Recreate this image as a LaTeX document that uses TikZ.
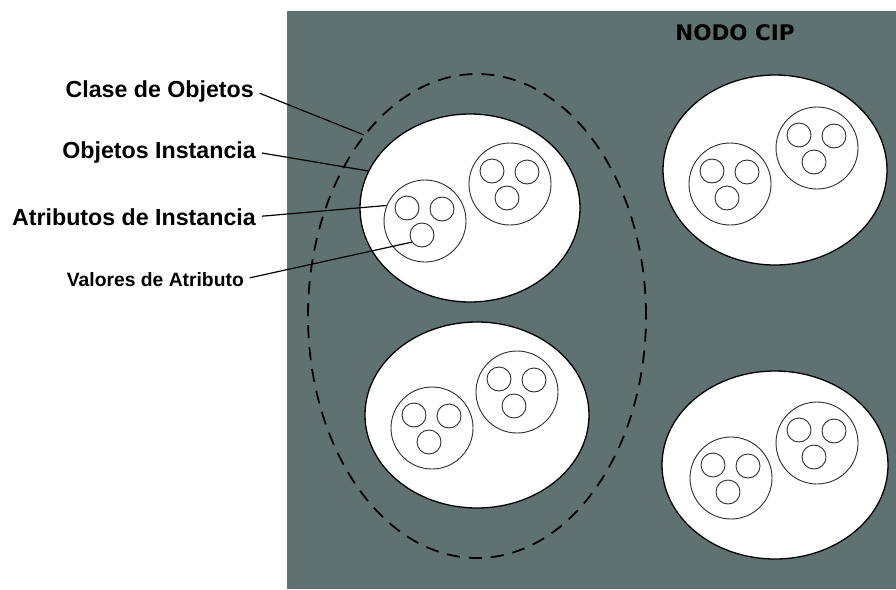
\documentclass[tikz,border=0pt]{standalone}
\usepackage{fontspec}
\setmainfont{Liberation Sans}
\newfontfamily\dvsfont{DejaVu Sans}
\usetikzlibrary{shapes.geometric}
\definecolor{bgslate}{HTML}{5F7170}
\definecolor{inkline}{HTML}{2E2E2E}
\tikzset{
  objell/.style={ellipse, draw=black, line width=1.3pt, fill=white, inner sep=0pt, minimum width=#1},
  inst/.style={circle, draw=inkline, line width=0.9pt, fill=white, inner sep=0pt, minimum size=82pt},
  attr/.style={circle, draw=inkline, line width=0.9pt, fill=white, inner sep=0pt, minimum size=24pt},
  classell/.style={ellipse, draw=black, line width=1.8pt, dash pattern=on 13pt off 9pt, inner sep=0pt, minimum width=338pt, minimum height=484pt},
  lbl/.style={font=\fontsize{23.2}{27}\selectfont\bfseries, inner sep=0pt, anchor=base east},
  lblsmall/.style={font=\fontsize{19.3}{23}\selectfont\bfseries, inner sep=0pt, anchor=base east},
  leader/.style={draw=black, line width=1.2pt, shorten <=6pt}
}
\newcommand\instgroup[3]{%
  \begin{scope}[shift={(#2,#3)}]
    \node[inst] (#1) at (0,0) {};
    \node[attr] (#1a) at (-18,-13) {};
    \node[attr] (#1b) at (17,-12) {};
    \node[attr] (#1c) at (-3,14) {};
  \end{scope}}
\begin{document}
\begin{tikzpicture}[x=1pt,y=-1pt]
\useasboundingbox (0,0) rectangle (896,589);
\fill[bgslate] (287,11) rectangle (896,589);

\node[font=\dvsfont\fontsize{21.5}{25}\selectfont\bfseries, inner sep=0pt] (title) at (735,33) {NODO CIP};

% object ellipses
\node[objell=220pt, minimum height=188pt] (ellA) at (470,208) {};
\node[objell=224pt, minimum height=186pt] (ellB) at (477,415) {};
\node[objell=224pt, minimum height=190pt] (ellC) at (775,170) {};
\node[objell=226pt, minimum height=188pt] (ellD) at (775,465) {};

\instgroup{A1}{425}{221}
\instgroup{A2}{510}{184}
\instgroup{B1}{432}{428}
\instgroup{B2}{517}{392}
\instgroup{C1}{730}{184}
\instgroup{C2}{817}{148}
\instgroup{D1}{731}{478}
\instgroup{D2}{817}{443}

% class of objects
\node[classell] (cls) at (477,316) {};

% labels
\node[lbl] (lclase) at (254,97) {Clase de Objetos};
\node[lbl] (lobj) at (256,158) {Objetos Instancia};
\node[lbl] (lattr) at (256,225) {Atributos de Instancia};
\node[lblsmall] (lval) at (244,286) {Valores de Atributo};

\draw[leader] (lclase.east) -- (cls.122);
\draw[leader] (lobj.east) -- (ellA.160);
\draw[leader] (lattr.east) -- (A1.158);
\draw[leader] (lval.east) -- (A1c.215);
\end{tikzpicture}
\end{document}
